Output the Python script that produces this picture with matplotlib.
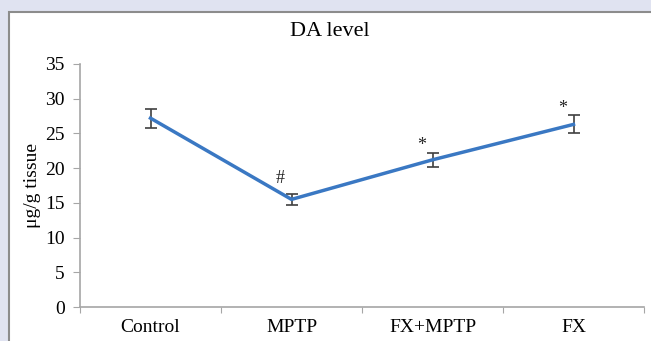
import matplotlib.pyplot as plt
from matplotlib.patches import Rectangle

# data
groups = ['Control', 'MPTP', 'FX+MPTP', 'FX']
da_level = [27.2, 15.5, 21.2, 26.3]
da_err = [1.35, 0.8, 1.0, 1.3]
marks = ['', '#', '*', '*']
y_ticks = [0, 5, 10, 15, 20, 25, 30, 35]

plt.rcParams['font.family'] = ['Liberation Serif', 'DejaVu Serif']

fig = plt.figure(figsize=(6.51, 3.41), dpi=100)
fig.patch.set_facecolor('#e0e3f1')

# white panel with grey border (runs off right and bottom)
panel = Rectangle((9 / 651, -0.05), 1.0, 1 - 12 / 341 + 0.05,
                  transform=fig.transFigure, facecolor='white',
                  edgecolor='#8c8c8c', linewidth=1.5, zorder=-1)
fig.patches.append(panel)

ax = fig.add_axes([80 / 651, 1 - 307 / 341, 564 / 651, 243 / 341])
ax.set_facecolor('none')
ax.set_zorder(2)

x = [i + 0.5 for i in range(len(groups))]
ax.errorbar(x, da_level, yerr=da_err, color='#3a78c3', linewidth=2.5,
            ecolor='#404040', elinewidth=1.2, capsize=4, capthick=1.2)

# significance marks, a bit left of and above each error bar
for xi, yi, ei, m in zip(x, da_level, da_err, marks):
    if m:
        dy = 11 if m == '#' else 5
        ax.annotate(m, (xi, yi + ei), xytext=(-8, dy), textcoords='offset points',
                    ha='center', va='center', fontsize=13, color='#222222')

ax.set_xlim(0, 4)
ax.set_ylim(0, 35)
ax.set_yticks(y_ticks)
ax.set_xticks([0, 1, 2, 3, 4])
ax.set_xticklabels([])
ax.set_xticks(x, minor=True)
ax.set_xticklabels(groups, minor=True)
ax.tick_params(axis='x', which='minor', length=0, pad=9, labelsize=14)
ax.tick_params(axis='x', which='major', length=4, color='#a6a6a6')
ax.tick_params(axis='y', length=5, color='#a6a6a6', labelsize=14, pad=6)

for s in ['top', 'right']:
    ax.spines[s].set_visible(False)
for s in ['left', 'bottom']:
    ax.spines[s].set_color('#a6a6a6')
    ax.spines[s].set_linewidth(1.2)

ax.set_ylabel('μg/g tissue', fontsize=14, labelpad=3)
fig.text(330 / 651, 1 - 32 / 341, 'DA level', ha='center', va='center', fontsize=16)

fig.savefig('out.png', dpi=100)
